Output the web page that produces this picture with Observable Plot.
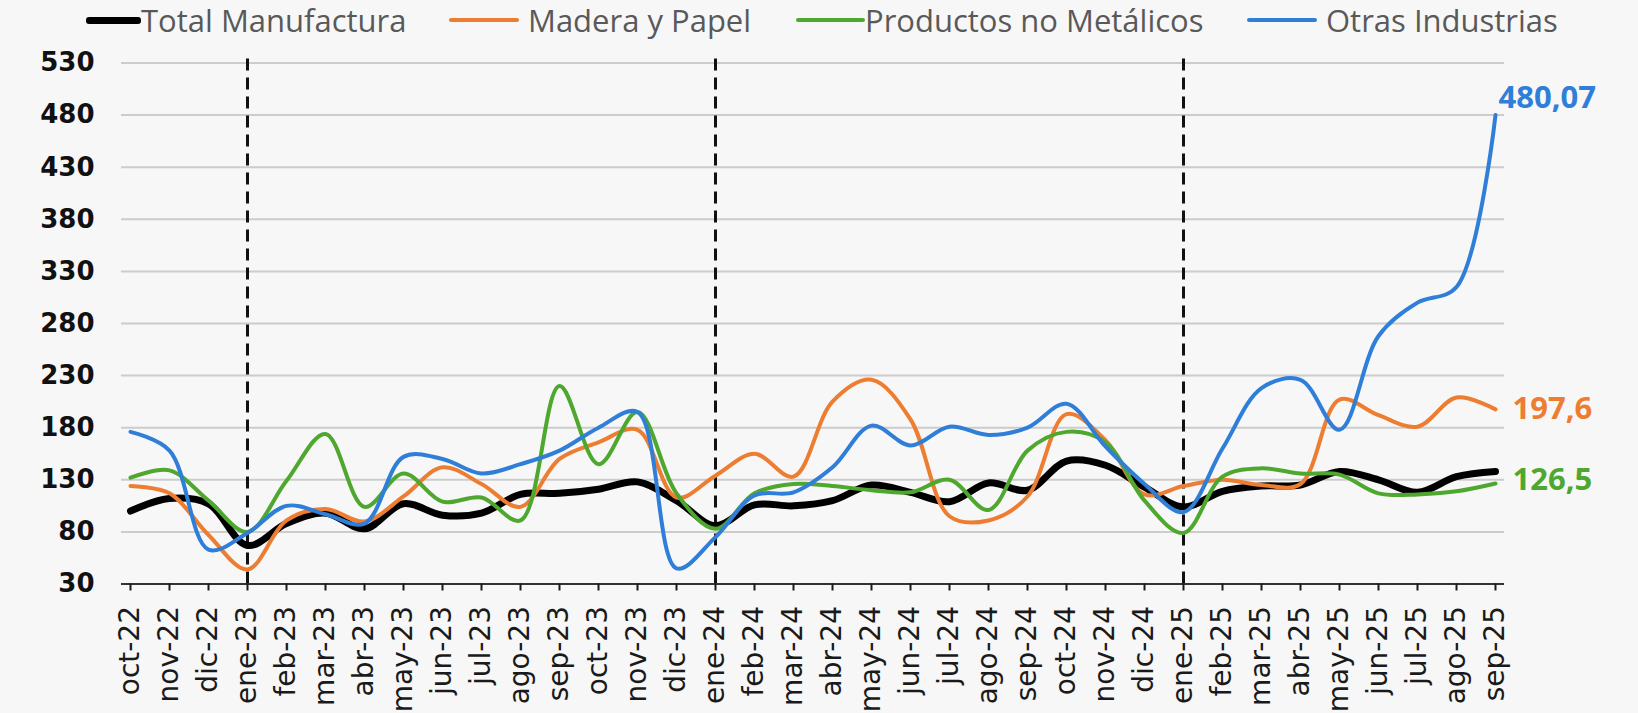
<!DOCTYPE html>
<html>
<head>
<meta charset="utf-8">
<script src="https://cdn.jsdelivr.net/npm/d3@7"></script>
<script src="https://cdn.jsdelivr.net/npm/@observablehq/plot@0.6"></script>
<style>
  html, body { margin: 0; padding: 0; background: #f7f7f7; }
  #legend { position: relative; height: 40px; width: 1638px; font-family: "Open Sans", sans-serif; font-size: 31px; color: #595959; }
  .item { position: absolute; top: 0; height: 40px; display: flex; align-items: center; white-space: nowrap; }
  .swatch { display: inline-block; border-radius: 3px; }
  #chart svg { display: block; }
</style>
</head>
<body>
<div id="legend"></div>
<div id="chart"></div>
<script>
// ---- data ----
const months = ["oct-22","nov-22","dic-22","ene-23","feb-23","mar-23","abr-23","may-23","jun-23","jul-23","ago-23","sep-23",
  "oct-23","nov-23","dic-23","ene-24","feb-24","mar-24","abr-24","may-24","jun-24","jul-24","ago-24","sep-24",
  "oct-24","nov-24","dic-24","ene-25","feb-25","mar-25","abr-25","may-25","jun-25","jul-25","ago-25","sep-25"];

const totalManufactura = [100,112,107,67,88,98,83,107,96,98,116,117,121,128,110,86,106,105,110,125,118,109,127,120,148,144,123,104,119,124,125,138,130,118,133,138];
const maderaYPapel = [124,117,77,44,91,102,90,114,142,126,104,150,166,178,113,134,155,133,205,226,188,95,91,114,193,168,116,124,130,125,126,207,192,181,209,197.6];
const productosNoMetalicos = [132,139,110,80,129,174,104,136,109,113,91,220,145,195,117,83,117,126,124,120,118,130,101,158,176,166,110,79,133,141,136,135,117,116,119,126.5];
const otrasIndustrias = [176,158,63,79,105,97,88,152,150,136,145,158,180,195,45,75,115,118,142,182,163,181,173,180,203,162,126,99,160,218,226,178,268,300,315,480.07];

const seriesNames = ["Total Manufactura","Madera y Papel","Productos no Metálicos","Otras Industrias"];
const seriesValues = [totalManufactura, maderaYPapel, productosNoMetalicos, otrasIndustrias];
const yTicks = [30,80,130,180,230,280,330,380,430,480,530];
const dividers = ["ene-23","ene-24","ene-25"];
const endLabelSeries = ["Otras Industrias","Madera y Papel","Productos no Metálicos"];
const endLabelTexts = ["480,07","197,6","126,5"];

// ---- styles ----
const seriesColors = ["#000000","#ED7D31","#4EA72E","#2F7ED8"];
const seriesWidths = [7,4,4,4];
const legendLeft = [86,449,796,1247];
const legendSwatchW = [55,70,69,70];
const legendGap = [0,9,0,9];
const endLabelDx = [3,17,17];
const endLabelDy = [-17,0,-3];

// ---- legend ----
const legend = document.getElementById("legend");
seriesNames.forEach((name, i) => {
  const item = document.createElement("div");
  item.className = "item";
  item.style.left = legendLeft[i] + "px";
  const sw = document.createElement("span");
  sw.className = "swatch";
  sw.style.width = legendSwatchW[i] + "px";
  sw.style.height = seriesWidths[i] + "px";
  sw.style.background = seriesColors[i];
  sw.style.marginRight = legendGap[i] + "px";
  const tx = document.createElement("span");
  tx.textContent = name;
  item.appendChild(sw);
  item.appendChild(tx);
  legend.appendChild(item);
});

// ---- chart ----
const rows = seriesNames.flatMap((name, s) =>
  seriesValues[s].map((v, i) => ({month: months[i], value: v, series: name})));
const last = months[months.length - 1];
const endRows = endLabelSeries.map((name, k) => {
  const s = seriesNames.indexOf(name);
  return {month: last, value: seriesValues[s][months.length - 1], text: endLabelTexts[k], color: seriesColors[s], dx: endLabelDx[k], dy: endLabelDy[k]};
});

const lineMarks = seriesNames.map((name, s) =>
  Plot.line(rows.filter(d => d.series === name), {
    x: "month", y: "value", stroke: seriesColors[s], strokeWidth: seriesWidths[s],
    curve: "catmull-rom", strokeLinejoin: "round", strokeLinecap: "round"
  }));

const textMarks = endRows.map(r =>
  Plot.text([r], {x: "month", y: "value", text: "text", fill: r.color, dx: r.dx, dy: r.dy,
    textAnchor: "start", fontSize: 31, fontWeight: "bold", fontFamily: "Open Sans"}));

const chart = Plot.plot({
  width: 1638,
  height: 673,
  marginLeft: 121,
  marginRight: 134,
  marginTop: 22.5,
  marginBottom: 129.5,
  style: {background: "transparent", fontFamily: "DejaVu Sans", overflow: "visible"},
  x: {type: "point", domain: months, padding: 0},
  y: {domain: [30, 530]},
  marks: [
    Plot.gridY(yTicks, {stroke: "#cccccc", strokeOpacity: 1, strokeWidth: 2}),
    Plot.ruleX(dividers, {x: d => d, y1: 30, y2: 540, stroke: "#111", strokeWidth: 3, strokeDasharray: "12,7"}),
    Plot.ruleY([30], {stroke: "#333", strokeWidth: 2}),
    Plot.axisX({tickRotate: -90, tickSize: 7, tickPadding: 15, fontSize: 28, fontFamily: "DejaVu Sans", color: "#1a1a1a", strokeWidth: 2, label: null}),
    Plot.axisY(yTicks, {tickSize: 0, tickPadding: 27, fontSize: 26, fontWeight: "bold", fontFamily: "DejaVu Sans", color: "#111", label: null}),
    ...lineMarks,
    ...textMarks
  ]
});
document.getElementById("chart").appendChild(chart);
</script>
</body>
</html>
